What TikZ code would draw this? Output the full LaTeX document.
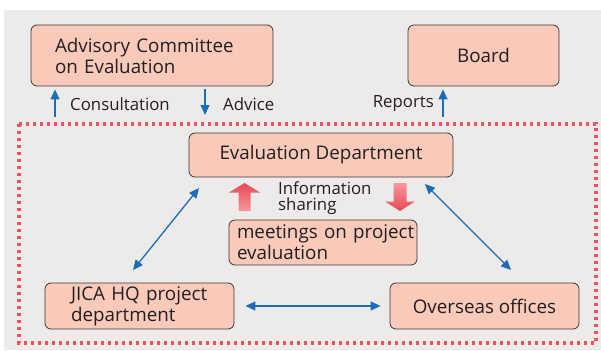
\documentclass[tikz,border=0pt]{standalone}
\usepackage{fontspec}
\setmainfont{Open Sans}
\usetikzlibrary{arrows.meta,calc}
\definecolor{panel}{RGB}{237,235,233}
\definecolor{boxfill}{RGB}{249,201,186}
\definecolor{boxline}{RGB}{60,55,55}
\definecolor{flow}{RGB}{30,108,184}
\definecolor{zone}{RGB}{240,82,100}
\definecolor{ink}{RGB}{35,31,32}
\definecolor{shareDark}{RGB}{234,72,86}
\definecolor{shareLight}{RGB}{246,150,158}
\tikzset{
  unit/.style={draw=boxline, line width=0.8pt, fill=boxfill, rounded corners=6pt,
    text=ink, font=\fontsize{18.8}{21}\selectfont},
  caption/.style={text=ink, font=\fontsize{16.8}{16.5}\selectfont, inner sep=0pt},
  link/.style={draw=flow, line width=1.3pt, -{Triangle[length=10pt,width=9pt]}},
  twoway/.style={draw=flow, line width=1.3pt, {Triangle[length=10pt,width=9pt]}-{Triangle[length=10pt,width=9pt]}}
}
\begin{document}
\begin{tikzpicture}[x=1pt,y=-1pt]
  \useasboundingbox (0,0) rectangle (601,350);
  % grey panel
  \fill[panel] (4,10) rectangle (601,350);
  % dotted boundary of the JICA evaluation zone
  \draw[zone, line width=3.2pt, dash pattern=on 3.2pt off 3.8pt] (19,124) rectangle (596,343);

  % organisational units
  \node[unit, text width=194pt, align=left, inner xsep=24pt, minimum height=61pt] (adv) at (152,55.5)
    {\mbox{Advisory Committee}\\on Evaluation};
  \node[unit, minimum width=151pt, minimum height=61pt] (board) at (483.5,55.5) {Board};
  \node[unit, minimum width=264pt, minimum height=44pt] (evald) at (321,155) {Evaluation Department};
  \node[unit, text width=172pt, align=left, inner xsep=8pt, minimum height=45pt] (meet) at (323,242.5)
    {\mbox{meetings on project}\\evaluation};
  \node[unit, text width=137pt, align=left, inner xsep=26pt, minimum height=46pt] (hq) at (139.5,306)
    {\mbox{JICA HQ project}\\department};
  \node[unit, minimum width=189pt, minimum height=46pt] (over) at (484.5,306) {Overseas offices};

  % reporting lines above the zone
  \coordinate (consFoot) at (55,117);
  \coordinate (advFoot) at (205,115);
  \coordinate (repFoot) at (443,117);
  \draw[link, shorten >=3pt] (consFoot) -- (consFoot |- adv.south);
  \draw[link, shorten <=3pt] (advFoot |- adv.south) -- (advFoot);
  \draw[link, shorten >=3pt] (repFoot) -- (repFoot |- board.south);
  \node[caption, anchor=west] (consLbl) at (70,104) {Consultation};
  \node[caption, anchor=west] (advLbl) at (223,104) {Advice};
  \node[caption, anchor=east] (repLbl) at (434,104) {Reports};

  % links inside the zone
  \coordinate (evL) at (199,188);
  \coordinate (hqT) at (133,270);
  \coordinate (evR) at (425,184);
  \coordinate (ovT) at (511,270);
  \draw[twoway] (evL) -- (hqT);
  \draw[twoway] (evR) -- (ovT);
  \draw[twoway, shorten <=11pt, shorten >=9pt] (hq) -- (over);

  % information sharing arrows
  \shade[top color=shareDark, bottom color=shareLight]
    (244.5,183) -- (260,192.5) -- (250.5,192.5) -- (250.5,211) -- (238.5,211)
    -- (238.5,192.5) -- (229,192.5) -- cycle;
  \shade[top color=shareLight, bottom color=shareDark]
    (393.5,183) -- (406.5,183) -- (406.5,201.5) -- (415,201.5) -- (400,211)
    -- (385,201.5) -- (393.5,201.5) -- cycle;
  \node[caption, anchor=west, align=left] (share) at (278,198) {Information\\sharing};
\end{tikzpicture}
\end{document}
